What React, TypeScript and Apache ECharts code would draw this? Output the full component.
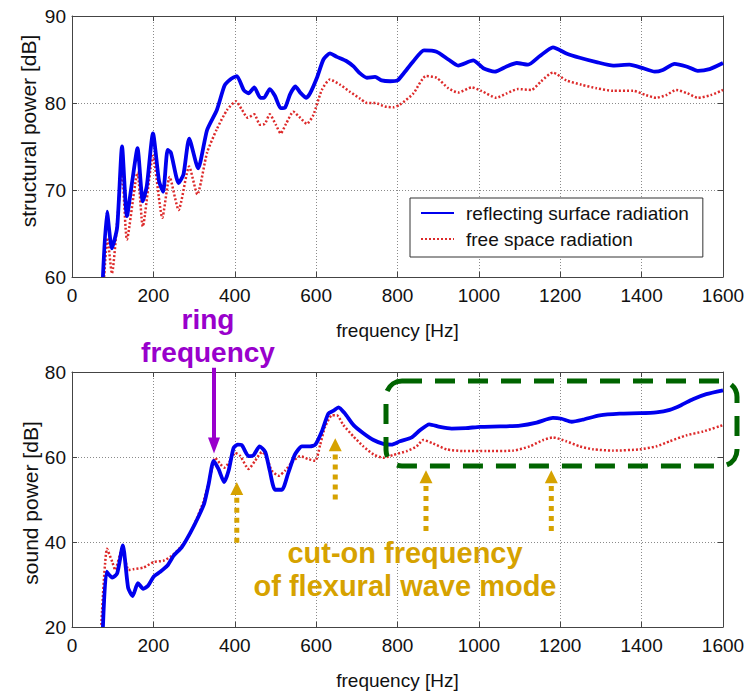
import React, { useEffect, useRef } from "react";
import * as echarts from "echarts";

// ---- top plot: structural power [dB] ----
const topReflFreq = [76, 86, 98, 111, 123, 135, 148, 161, 174, 184, 199, 214, 224, 235, 243, 262, 274, 288, 310, 332, 356, 375, 389, 405, 422, 434, 448, 463, 472, 486, 499, 513, 524, 536, 549, 561, 576, 585, 602, 618, 634, 651, 675, 692, 708, 725, 745, 761, 782, 800, 815, 839, 865, 896, 925, 949, 986, 1011, 1039, 1068, 1093, 1121, 1150, 1182, 1215, 1248, 1289, 1330, 1370, 1403, 1432, 1452, 1481, 1510, 1538, 1567, 1600];
const topReflDb = [60, 67.5, 63.3, 65.7, 75, 67, 71, 74.8, 68.7, 70.5, 76.5, 71, 69.8, 74.6, 74.3, 70.8, 71.8, 75.9, 72.5, 76.9, 79.2, 82, 82.7, 83.1, 81.5, 81.1, 81.8, 80.6, 80.6, 81.6, 80.8, 79.4, 79.5, 81, 81.9, 81.2, 80.6, 81.1, 82.9, 85, 85.7, 85.3, 84.8, 84.2, 83.4, 82.9, 83, 82.6, 82.5, 82.6, 83.4, 84.8, 86.05, 85.9, 85, 84.3, 84.9, 84, 83.6, 84.2, 84.6, 84.4, 85.4, 86.4, 85.7, 85.2, 84.7, 84.3, 84.4, 84, 83.6, 83.8, 84.5, 84.2, 83.7, 83.9, 84.6];

const topFreeFreq = [79, 87, 98, 123, 135, 161, 174, 199, 222, 240, 262, 288, 308, 332, 356, 381, 403, 418, 432, 448, 462, 474, 486, 501, 513, 526, 544, 561, 577, 593, 614, 634, 659, 683, 708, 725, 745, 769, 790, 806, 839, 870, 896, 925, 949, 982, 1006, 1043, 1068, 1096, 1129, 1153, 1182, 1215, 1252, 1289, 1330, 1379, 1411, 1436, 1460, 1485, 1513, 1538, 1570, 1600];
const topFreeDb = [60, 64.5, 60.4, 72, 64.3, 72, 65.8, 73.9, 66.8, 71.5, 67.7, 72.7, 69.5, 74.3, 77, 79.2, 80.2, 79.2, 78.3, 78.7, 77.5, 77.6, 78.7, 77.5, 76.5, 77.6, 79, 78.3, 77.6, 78.6, 81.5, 82.7, 82.1, 81.3, 80.5, 80, 80, 79.6, 79.5, 79.8, 81.1, 83.1, 82.9, 81.7, 81.2, 81.8, 81.4, 80.6, 81.1, 81.6, 81.5, 82.5, 83.5, 82.6, 82.1, 81.7, 81.4, 81.4, 80.9, 80.6, 80.9, 81.5, 81.1, 80.6, 80.9, 81.5];

// ---- bottom plot: sound power [dB] ----
const botReflFreq = [76, 85, 99, 111, 125, 138, 149, 162, 175, 187, 201, 217, 234, 250, 270, 291, 311, 325, 336, 348, 360, 374, 385, 397, 407, 417, 434, 446, 461, 475, 486, 499, 516, 532, 548, 565, 585, 598, 614, 630, 643, 655, 671, 692, 716, 741, 765, 785, 806, 835, 855, 878, 904, 933, 968, 1003, 1052, 1101, 1142, 1182, 1203, 1228, 1256, 1297, 1346, 1395, 1436, 1469, 1497, 1526, 1559, 1600];
const botReflDb = [20, 33, 31.6, 32.6, 39.2, 29.2, 27.3, 30.3, 29, 29.7, 31.9, 33, 34.4, 36.8, 38.8, 42.2, 46, 49.1, 53.7, 59.1, 57.2, 54.1, 56.8, 62.1, 62.9, 62.8, 60.2, 60.4, 62.5, 61.2, 56.8, 52.3, 52.3, 56.4, 60.6, 62.5, 62.5, 62.9, 66, 70.2, 70.9, 71.7, 70.2, 67.5, 65.6, 64, 63.1, 62.9, 63.7, 64.6, 66.3, 67.7, 67.1, 66.7, 66.8, 67.1, 67.2, 67.4, 68.1, 69.2, 69, 68.3, 68.8, 69.8, 70.2, 70.3, 70.5, 71.1, 72.2, 73.6, 74.8, 75.7];

const botFreeFreq = [72, 86, 99, 106, 123, 139, 151, 176, 201, 225, 246, 266, 287, 307, 323, 340, 352, 365, 374, 389, 401, 413, 434, 450, 467, 479, 491, 508, 524, 540, 561, 581, 598, 610, 622, 639, 651, 667, 692, 716, 741, 765, 790, 823, 847, 863, 887, 921, 962, 1019, 1084, 1125, 1158, 1182, 1215, 1248, 1281, 1330, 1395, 1436, 1469, 1510, 1551, 1600];
const botFreeDb = [20.5, 38.4, 35.3, 33.4, 38.4, 33.4, 33.6, 34, 35.3, 35.6, 36.8, 38.7, 41.4, 45.6, 49.5, 55.6, 59.8, 58.3, 57.5, 59.1, 61, 60.3, 57.2, 59.1, 61.2, 59.8, 56.8, 55.6, 56.8, 58.7, 60.2, 59.5, 59.1, 62.9, 67.1, 69.8, 69.8, 67.5, 64.8, 62.5, 60.6, 59.8, 60.5, 61.4, 62.5, 64, 63.2, 61.8, 61.4, 61.4, 61.5, 62.5, 64, 64.6, 63.7, 62.5, 61.8, 61.5, 61.8, 62.5, 63.7, 65.1, 66, 67.5];

// ---- axes / labels ----
const xTicks = { min: 0, max: 1600, interval: 200 };
const topY = { min: 60, max: 90, interval: 10 };
const botY = { min: 20, max: 80, interval: 20 };
const seriesNames = ["reflecting surface radiation", "free space radiation"];
const xName = "frequency [Hz]";
const topYName = "structural power [dB]";
const botYName = "sound power [dB]";

// annotation anchors in data units of the lower plot [freq, dB]
const ringArrow = { freq: 349, fromDb: 81, toDb: 60.8 };
const cutOnArrows = [
  { freq: 405, fromDb: 39.8, toDb: 54.1 },
  { freq: 647, fromDb: 50.0, toDb: 64.4 },
  { freq: 870, fromDb: 42.6, toDb: 56.9 },
  { freq: 1178, fromDb: 42.6, toDb: 56.9 },
];

const pair = (xs: number[], ys: number[]) => xs.map((x, i) => [x, ys[i]]);

const FONT = "'Liberation Sans', Arial, sans-serif";
const BOLD = "'Liberation Sans', Arial, sans-serif";
const AXIS_COLOR = "#444";
const BLUE = "#0000ee";
const RED = "#dd2a2a";
const PURPLE = "#9900cc";
const GOLD = "#d6a200";
const GREEN = "#006400";

export default function App() {
  const ref = useRef<HTMLDivElement>(null);
  useEffect(() => {
    const chart = echarts.init(ref.current!, null, { renderer: "svg" });
    const labelStyle = { fontFamily: FONT, fontSize: 19, color: "#111" };

    const mkX = (gridIndex: number, main: boolean) => ({
      type: "value",
      gridIndex,
      position: main ? "bottom" : "top",
      ...xTicks,
      name: main ? xName : "",
      nameLocation: "middle",
      nameGap: 44,
      nameTextStyle: { ...labelStyle },
      axisLine: { show: true, onZero: false, lineStyle: { color: AXIS_COLOR, width: 1 } },
      axisTick: { show: true, inside: true, length: 5, lineStyle: { color: AXIS_COLOR } },
      axisLabel: { show: main, margin: 9, ...labelStyle, formatter: (v: number) => String(v) },
      splitLine: { show: main, lineStyle: { color: "#8a8a8a", type: [1, 2], width: 1 } },
    });
    const mkY = (gridIndex: number, main: boolean, cfg: any) => ({
      type: "value",
      gridIndex,
      position: main ? "left" : "right",
      ...cfg,
      axisLine: { show: true, onZero: false, lineStyle: { color: AXIS_COLOR, width: 1 } },
      axisTick: { show: true, inside: true, length: 5, lineStyle: { color: AXIS_COLOR } },
      axisLabel: { show: main, margin: 6, ...labelStyle, formatter: (v: number) => String(v) },
      splitLine: { show: main, lineStyle: { color: "#8a8a8a", type: [1, 2], width: 1 } },
    });

    const blueStyle = { color: BLUE, width: 3.8 };
    const redStyle = { color: RED, width: 2.5, type: [2, 2] };
    const line = (name: string, xi: number, yi: number, data: number[][], ls: any, z: number) => ({
      type: "line",
      name,
      xAxisIndex: xi,
      yAxisIndex: yi,
      data,
      symbol: "none",
      showSymbol: false,
      smooth: 0.2,
      lineStyle: ls,
      itemStyle: { color: ls.color },
      z,
      clip: true,
    });

    const option: any = {
      animation: false,
      backgroundColor: "#fff",
      grid: [
        { left: 72, right: 32, top: 16, height: 261 },
        { left: 72, right: 32, top: 372, height: 261 },
      ],
      xAxis: [mkX(0, true), mkX(0, false), mkX(1, true), mkX(1, false)],
      yAxis: [mkY(0, true, topY), mkY(0, false, topY), mkY(1, true, botY), mkY(1, false, botY)],
      legend: {
        left: 410,
        top: 198,
        orient: "vertical",
        data: seriesNames,
        itemWidth: 33,
        itemHeight: 14,
        itemGap: 6,
        padding: [5, 14, 8, 10],
        borderColor: "#333",
        borderWidth: 1,
        borderRadius: 0,
        backgroundColor: "#fff",
        itemStyle: { opacity: 0 },
        textStyle: { fontFamily: FONT, fontSize: 19, color: "#111", lineHeight: 20, padding: [0, 0, 0, 7] },
        z: 10,
      },
      series: [
        line(seriesNames[1], 0, 0, pair(topFreeFreq, topFreeDb), redStyle, 2),
        line(seriesNames[0], 0, 0, pair(topReflFreq, topReflDb), blueStyle, 3),
        line(seriesNames[1], 2, 2, pair(botFreeFreq, botFreeDb), redStyle, 2),
        line(seriesNames[0], 2, 2, pair(botReflFreq, botReflDb), blueStyle, 3),
      ],
    };
    chart.setOption(option);

    const px = (f: number, db: number) =>
      chart.convertToPixel({ xAxisIndex: 2, yAxisIndex: 2 }, [f, db]) as number[];

    const graphics: any[] = [];
    // y axis names
    graphics.push({
      type: "text", x: 28, y: 131, rotation: Math.PI / 2,
      style: { text: topYName, font: `21px ${FONT}`, fill: "#111", align: "center", verticalAlign: "middle" },
    });
    graphics.push({
      type: "text", x: 30, y: 503, rotation: Math.PI / 2,
      style: { text: botYName, font: `21px ${FONT}`, fill: "#111", align: "center", verticalAlign: "middle" },
    });

    // ring frequency arrow
    {
      const a = px(ringArrow.freq, ringArrow.fromDb);
      const b = px(ringArrow.freq, ringArrow.toDb);
      const headH = 16;
      graphics.push({
        type: "line", z: 20,
        shape: { x1: a[0], y1: a[1], x2: b[0], y2: b[1] - headH + 1 },
        style: { stroke: PURPLE, lineWidth: 4 },
      });
      graphics.push({
        type: "polygon", z: 20,
        shape: { points: [[b[0] - 6, b[1] - headH], [b[0] + 6, b[1] - headH], [b[0], b[1]]] },
        style: { fill: PURPLE },
      });
    }
    // cut-on arrows
    cutOnArrows.forEach((c) => {
      const a = px(c.freq, c.fromDb);
      const b = px(c.freq, c.toDb);
      const headH = 13;
      graphics.push({
        type: "line", z: 20,
        shape: { x1: a[0], y1: a[1], x2: b[0], y2: b[1] + headH + 2 },
        style: { stroke: GOLD, lineWidth: 5, lineDash: [5, 5] },
      });
      graphics.push({
        type: "polygon", z: 20,
        shape: { points: [[b[0] - 6.5, b[1] + headH], [b[0] + 6.5, b[1] + headH], [b[0], b[1]]] },
        style: { fill: GOLD },
      });
    });

    // texts
    graphics.push({
      type: "text", x: 208, y: 319, z: 20,
      style: { text: "ring", font: `bold 28px ${BOLD}`, fill: PURPLE, align: "center", verticalAlign: "middle" },
    });
    graphics.push({
      type: "text", x: 208, y: 352, z: 20,
      style: { text: "frequency", font: `bold 28px ${BOLD}`, fill: PURPLE, align: "center", verticalAlign: "middle" },
    });
    graphics.push({
      type: "text", x: 405, y: 553, z: 20,
      style: { text: "cut-on frequency", font: `bold 29px ${BOLD}`, fill: GOLD, align: "center", verticalAlign: "middle" },
    });
    graphics.push({
      type: "text", x: 405, y: 586, z: 20,
      style: { text: "of flexural wave mode", font: `bold 29px ${BOLD}`, fill: GOLD, align: "center", verticalAlign: "middle" },
    });

    // green dashed rounded box
    graphics.push({
      type: "rect", z: 20,
      shape: { x: 386, y: 381, width: 351, height: 85, r: 16 },
      style: { fill: "none", stroke: GREEN, lineWidth: 5, lineDash: [20, 13] },
    });

    chart.setOption({ graphic: graphics });
    return () => chart.dispose();
  }, []);
  return <div ref={ref} style={{ position: "fixed", left: 0, top: 0, width: 755, height: 691 }} />;
}
